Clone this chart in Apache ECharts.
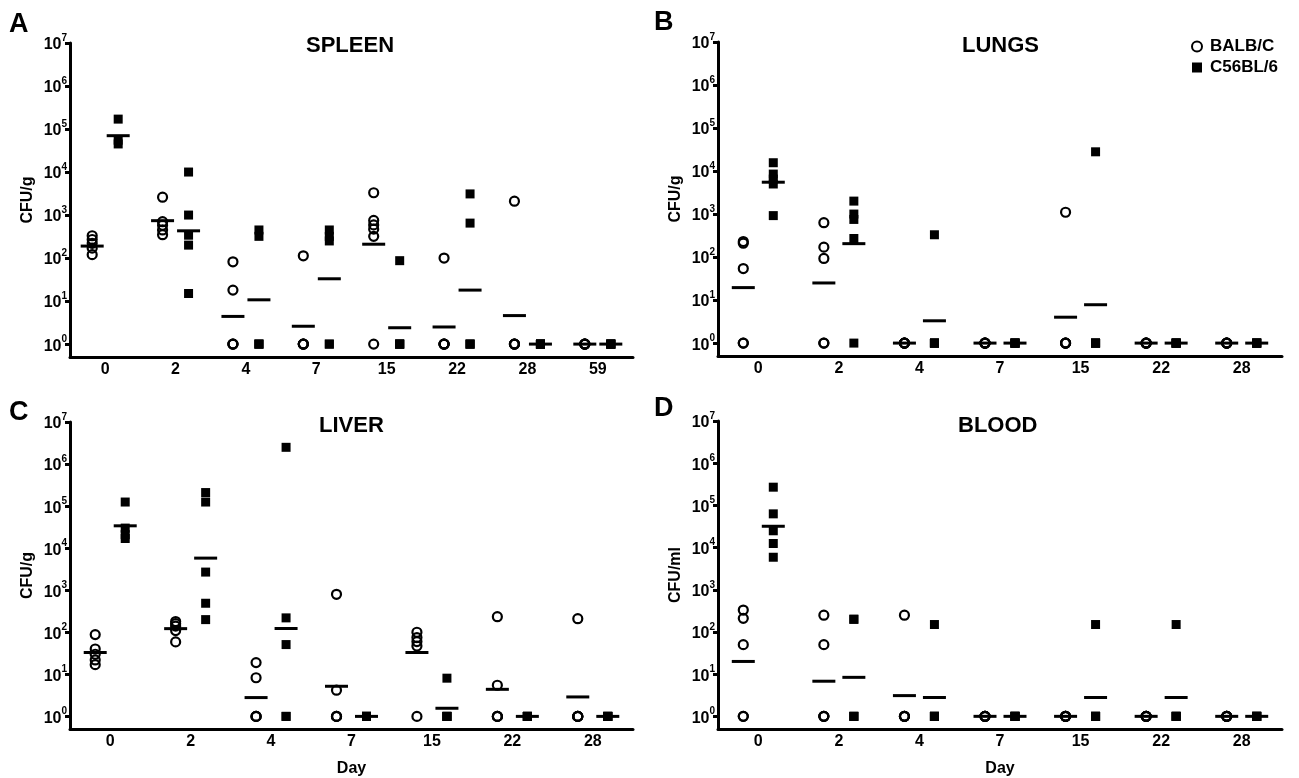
<!DOCTYPE html>
<html><head><meta charset="utf-8">
<script src="https://cdn.jsdelivr.net/npm/echarts@6/dist/echarts.min.js"></script>
<style>html,body{margin:0;padding:0;background:#fff}#c{width:1299px;height:778px}</style>
</head><body><div id="c"></div>
<script>
// ---- DATA (CFU values per animal) ----
const spleenDays = ['0','2','4','7','15','22','28','59'];
const spleenBalb = [[330,270,220,170,120],[2600,700,580,450,350],[82,18,1,1,1],[113,1,1,1,1],[3300,750,590,470,320,1],[100,1,1,1,1],[2100,1,1,1,1],[1,1,1,1,1]];
const spleenBalbMean = [190,740,4.4,2.6,210,2.5,4.6,1];
const spleenC56 = [[170000,55000,45000],[10000,1000,340,200,15],[450,320,1,1,1],[450,320,250,1,1],[87,1,1,1,1],[3100,650,1,1,1],[1,1,1,1,1],[1,1,1,1,1]];
const spleenC56Mean = [70000,430,10.7,33,2.4,18,1,1];

const lungsDays = ['0','2','4','7','15','22','28'];
const lungsBalb = [[230,210,54,1,1],[630,170,93,1,1],[1,1,1,1,1],[1,1,1,1,1],[1100,1,1,1,1],[1,1,1,1,1],[1,1,1,1,1]];
const lungsBalbMean = [19.5,25,1,1,4,1,1];
const lungsC56 = [[15600,8500,6500,5000,920],[2000,1000,750,270,1],[330,1,1,1,1],[1,1,1,1,1],[28000,1,1,1,1],[1,1,1,1,1],[1,1,1,1,1]];
const lungsC56Mean = [5500,205,3.3,1,7.8,1,1];

const liverDays = ['0','2','4','7','15','22','28'];
const liverBalb = [[88,40,30,22,17],[180,160,140,110,59],[19,8.3,1,1,1],[800,4.2,1,1,1],[100,75,60,47,1],[235,5.5,1,1,1],[210,1,1,1,1]];
const liverBalbMean = [33,122,2.8,5.2,33,4.4,2.9];
const liverC56 = [[125000,30000,21000,17000],[210000,125000,2700,490,200],[2500000,220,51,1,1],[1,1,1,1,1],[8.1,1,1,1,1],[1,1,1,1,1],[1,1,1,1,1]];
const liverC56Mean = [34000,5800,123,1,1.56,1,1];

const bloodDays = ['0','2','4','7','15','22','28'];
const bloodBalb = [[330,210,50,1,1],[250,50,1,1,1],[250,1,1,1,1],[1,1,1,1,1],[1,1,1,1,1],[1,1,1,1,1],[1,1,1,1,1]];
const bloodBalbMean = [20,6.8,3.1,1,1,1,1];
const bloodC56 = [[270000,63000,25000,12500,5900],[200,200,1,1,1],[150,1,1,1,1],[1,1,1,1,1],[150,1,1,1,1],[150,1,1,1,1],[1,1,1,1,1]];
const bloodC56Mean = [32000,8.4,2.8,1,2.8,2.8,1];

const decadeTicks = [0,1,2,3,4,5,6,7];

// ---- CHART ----
const FONT = '"Liberation Sans", Arial, Helvetica, sans-serif';
const panels = [
  {title:'SPLEEN', letter:'A', yName:'CFU/g', xName:'', days:spleenDays, balb:spleenBalb, balbMean:spleenBalbMean, c56:spleenC56, c56Mean:spleenC56Mean,
   grid:{left:70, top:43, width:563, height:314}, off:13, titlePos:[306,35], letterPos:[9,11]},
  {title:'LUNGS', letter:'B', yName:'CFU/g', xName:'', days:lungsDays, balb:lungsBalb, balbMean:lungsBalbMean, c56:lungsC56, c56Mean:lungsC56Mean,
   grid:{left:718, top:42, width:564, height:314}, off:15, titlePos:[962,35], letterPos:[654,9]},
  {title:'LIVER', letter:'C', yName:'CFU/g', xName:'Day', days:liverDays, balb:liverBalb, balbMean:liverBalbMean, c56:liverC56, c56Mean:liverC56Mean,
   grid:{left:70, top:422, width:563, height:311}, off:15, titlePos:[319,415], letterPos:[9,399]},
  {title:'BLOOD', letter:'D', yName:'CFU/ml', xName:'Day', days:bloodDays, balb:bloodBalb, balbMean:bloodBalbMean, c56:bloodC56, c56Mean:bloodC56Mean,
   grid:{left:718, top:421, width:564, height:313}, off:15, titlePos:[958,415], letterPos:[654,395]}
];

function pts(groups){ const out=[]; groups.forEach((g,d)=>g.forEach(v=>out.push([d, Math.log10(v)]))); return out; }
function means(arr){ return arr.map((v,d)=>[d, Math.log10(v)]); }

const option = {animation:false, backgroundColor:'#fff', title:[], grid:[], xAxis:[], yAxis:[], series:[],
  legend:{data:[{name:'BALB/C', icon:'circle', itemStyle:{color:'rgba(0,0,0,0)', borderColor:'#000', borderWidth:2, opacity:1}},
                {name:'C56BL/6', icon:'rect', itemStyle:{color:'#000', opacity:1}}],
          orient:'vertical', left:1191, top:38, itemWidth:10, itemHeight:10, itemGap:4, selectedMode:false, padding:0,
          textStyle:{fontFamily:FONT, fontWeight:'bold', fontSize:17, color:'#000', padding:[0,0,0,3]}}
};

panels.forEach((p,i)=>{
  option.title.push({text:p.title, left:p.titlePos[0], top:p.titlePos[1], padding:0,
    textStyle:{fontFamily:FONT, fontWeight:'bold', fontSize:22, color:'#000'}});
  option.title.push({text:p.letter, left:p.letterPos[0], top:p.letterPos[1], padding:0,
    textStyle:{fontFamily:FONT, fontWeight:'bold', fontSize:27, color:'#000'}});
  option.grid.push(Object.assign({containLabel:false}, p.grid));
  option.xAxis.push({type:'category', gridIndex:i, data:p.days, boundaryGap:true,
    axisLine:{onZero:false, lineStyle:{color:'#000', width:3}},
    axisTick:{alignWithLabel:true, length:6, lineStyle:{color:'#000', width:3}},
    axisLabel:{color:'#000', fontFamily:FONT, fontWeight:'bold', fontSize:16, margin:5},
    splitLine:{show:false},
    name:p.xName, nameLocation:'middle', nameGap:32,
    nameTextStyle:{color:'#000', fontFamily:FONT, fontWeight:'bold', fontSize:16}});
  option.yAxis.push({type:'value', gridIndex:i, min:-0.3, max:7,
    axisLine:{show:true, lineStyle:{color:'#000', width:3}},
    axisTick:{show:true, length:5, lineStyle:{color:'#000', width:3}, customValues:decadeTicks},
    axisLabel:{customValues:decadeTicks, margin:3, formatter:v=>'{b|10}{s|'+v+'}',
      rich:{b:{fontFamily:FONT, fontWeight:'bold', fontSize:16, color:'#000', lineHeight:20, verticalAlign:'bottom'},
            s:{fontFamily:FONT, fontWeight:'bold', fontSize:10, color:'#000', lineHeight:20, verticalAlign:'top'}}},
    splitLine:{show:false},
    name:p.yName, nameLocation:'middle', nameGap:34,
    nameTextStyle:{color:'#000', fontFamily:FONT, fontWeight:'bold', fontSize:16}});
  const common = {type:'scatter', xAxisIndex:i, yAxisIndex:i, silent:true};
  option.series.push(Object.assign({}, common, {name:'BALB/C', symbol:'circle', symbolSize:9, symbolOffset:[-p.off,0],
    itemStyle:{color:'rgba(0,0,0,0)', borderColor:'#000', borderWidth:2.2, opacity:1}, data:pts(p.balb), z:3}));
  option.series.push(Object.assign({}, common, {name:'C56BL/6', symbol:'rect', symbolSize:9, symbolOffset:[p.off,0],
    itemStyle:{color:'#000', opacity:1}, data:pts(p.c56), z:3}));
  option.series.push(Object.assign({}, common, {name:'BALB/C mean', symbol:'rect', symbolSize:[23,3], symbolOffset:[-p.off,0],
    itemStyle:{color:'#000', opacity:1}, data:means(p.balbMean), z:4}));
  option.series.push(Object.assign({}, common, {name:'C56BL/6 mean', symbol:'rect', symbolSize:[23,3], symbolOffset:[p.off,0],
    itemStyle:{color:'#000', opacity:1}, data:means(p.c56Mean), z:4}));
});

const chart = echarts.init(document.getElementById('c'), null, {renderer:'canvas'});
chart.setOption(option);
</script></body></html>
